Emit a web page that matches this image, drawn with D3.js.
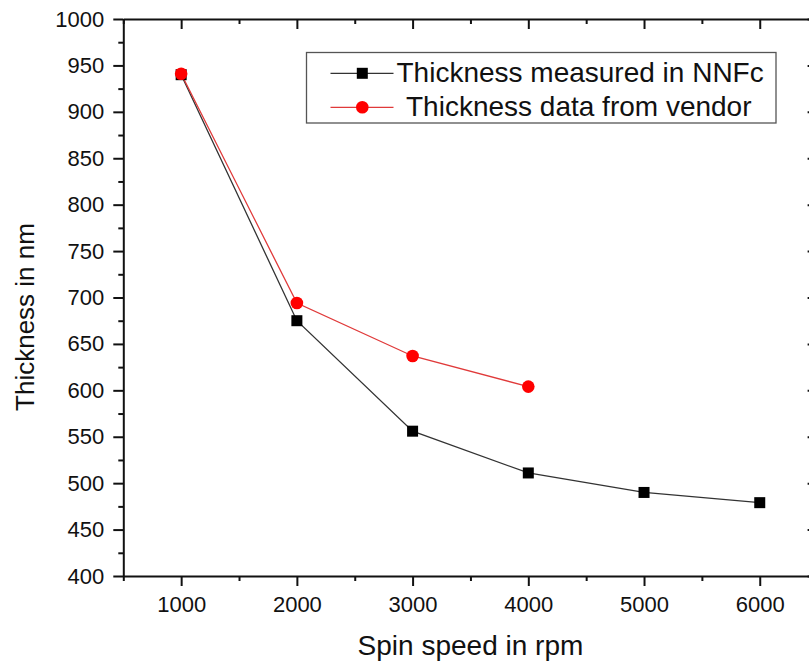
<!DOCTYPE html>
<html>
<head>
<meta charset="utf-8">
<script src="https://cdn.jsdelivr.net/npm/d3@7"></script>
<style>
  html, body { margin: 0; padding: 0; background: #fff; }
  svg { display: block; }
  text { font-family: "Liberation Sans", Arial, sans-serif; fill: #111; }
</style>
</head>
<body>
<svg id="chart" width="809" height="666"></svg>
<script>
// ---- data ----
const speeds = [1000, 2000, 3000, 4000, 5000, 6000];
const measured = [940, 675, 556, 511, 490, 479];
const vendorSpeeds = [1000, 2000, 3000, 4000];
const vendor = [941, 694, 637, 604];
const xTicks = [1000, 2000, 3000, 4000, 5000, 6000];
const yTicks = [400, 450, 500, 550, 600, 650, 700, 750, 800, 850, 900, 950, 1000];
const seriesNames = ["Thickness measured in NNFc", "Thickness data from vendor"];

const svg = d3.select("#chart");
const L = 123.3, R = 817.6, T = 19, B = 576;
const x = d3.scaleLinear().domain([500, 6500]).range([L, R]);
const y = d3.scaleLinear().domain([400, 1000]).range([B, T]);

const xMinor = d3.range(500, 6501, 500).filter(v => !xTicks.includes(v));
const yMinor = d3.range(400, 1001, 25).filter(v => !yTicks.includes(v));

function styleAxis(g) {
  g.select(".domain").attr("stroke", "#111").attr("stroke-width", 2);
  g.selectAll(".tick line").attr("stroke", "#111").attr("stroke-width", 2);
}

// bottom axis
const gB = svg.append("g").attr("transform", `translate(0,${B})`)
  .call(d3.axisBottom(x).tickValues(xTicks).tickSize(10).tickSizeOuter(0).tickPadding(10).tickFormat(d3.format("d")));
styleAxis(gB);
gB.selectAll("text").attr("font-size", 22).attr("fill", "#111").style("font-family", '"Liberation Sans", Arial, sans-serif');
const gBm = svg.append("g").attr("transform", `translate(0,${B})`)
  .call(d3.axisBottom(x).tickValues(xMinor).tickSize(5).tickSizeOuter(0).tickFormat(""));
styleAxis(gBm); gBm.select(".domain").remove();

// left axis
const gL = svg.append("g").attr("transform", `translate(${L},0)`)
  .call(d3.axisLeft(y).tickValues(yTicks).tickSize(10).tickSizeOuter(0).tickPadding(9).tickFormat(d3.format("d")));
styleAxis(gL);
gL.selectAll("text").attr("font-size", 22).attr("fill", "#111").style("font-family", '"Liberation Sans", Arial, sans-serif');
const gLm = svg.append("g").attr("transform", `translate(${L},0)`)
  .call(d3.axisLeft(y).tickValues(yMinor).tickSize(5).tickSizeOuter(0).tickFormat(""));
styleAxis(gLm); gLm.select(".domain").remove();

// top axis (inward ticks)
const gT = svg.append("g").attr("transform", `translate(0,${T})`)
  .call(d3.axisTop(x).tickValues(xTicks).tickSize(-10).tickSizeOuter(0).tickFormat(""));
styleAxis(gT);
const gTm = svg.append("g").attr("transform", `translate(0,${T})`)
  .call(d3.axisTop(x).tickValues(xMinor).tickSize(-5).tickSizeOuter(0).tickFormat(""));
styleAxis(gTm); gTm.select(".domain").remove();

// right axis (inward ticks, mostly off-canvas)
const gR = svg.append("g").attr("transform", `translate(${R},0)`)
  .call(d3.axisRight(y).tickValues(yTicks).tickSize(-10).tickSizeOuter(0).tickFormat(""));
styleAxis(gR);
const gRm = svg.append("g").attr("transform", `translate(${R},0)`)
  .call(d3.axisRight(y).tickValues(yMinor).tickSize(-5).tickSizeOuter(0).tickFormat(""));
styleAxis(gRm); gRm.select(".domain").remove();

// axis titles
svg.append("text").attr("x", (L + R) / 2).attr("y", 655)
  .attr("text-anchor", "middle").attr("font-size", 28).text("Spin speed in rpm");
svg.append("text").attr("transform", "translate(34,317) rotate(-90)")
  .attr("text-anchor", "middle").attr("font-size", 26).text("Thickness in nm");

// lines
const measuredPts = speeds.map((s, i) => [s, measured[i]]);
const vendorPts = vendorSpeeds.map((s, i) => [s, vendor[i]]);
const line = d3.line().x(d => x(d[0])).y(d => y(d[1]));

svg.append("path").attr("d", line(measuredPts)).attr("fill", "none")
  .attr("stroke", "#333").attr("stroke-width", 1.3);
svg.append("path").attr("d", line(vendorPts)).attr("fill", "none")
  .attr("stroke", "#e03a3a").attr("stroke-width", 1.3);

const sq = 11;
svg.append("g").selectAll("rect").data(measuredPts).join("rect")
  .attr("x", d => x(d[0]) - sq / 2).attr("y", d => y(d[1]) - sq / 2)
  .attr("width", sq).attr("height", sq).attr("fill", "#000");
svg.append("g").selectAll("circle").data(vendorPts).join("circle")
  .attr("cx", d => x(d[0])).attr("cy", d => y(d[1])).attr("r", 6.3)
  .attr("fill", "#ff0000");

// legend
const lg = svg.append("g");
lg.append("rect").attr("x", 306.5).attr("y", 52.5).attr("width", 469.5).attr("height", 70.5)
  .attr("fill", "#fff").attr("stroke", "#555").attr("stroke-width", 1.3);
const legY = [73.3, 107.3];
const textX = [396.5, 406];
// entry 1
lg.append("line").attr("x1", 330.5).attr("x2", 393.5).attr("y1", legY[0]).attr("y2", legY[0])
  .attr("stroke", "#333").attr("stroke-width", 1.3);
lg.append("rect").attr("x", 362.3 - sq / 2).attr("y", legY[0] - sq / 2).attr("width", sq).attr("height", sq).attr("fill", "#000");
lg.append("text").attr("x", textX[0]).attr("y", legY[0] + 8.5).attr("font-size", 28).text(seriesNames[0]);
// entry 2
lg.append("line").attr("x1", 330.5).attr("x2", 393.5).attr("y1", legY[1]).attr("y2", legY[1])
  .attr("stroke", "#e03a3a").attr("stroke-width", 1.3);
lg.append("circle").attr("cx", 362.3).attr("cy", legY[1]).attr("r", 6.3).attr("fill", "#ff0000");
lg.append("text").attr("x", textX[1]).attr("y", legY[1] + 8.5).attr("font-size", 28).text(seriesNames[1]);
</script>
</body>
</html>
